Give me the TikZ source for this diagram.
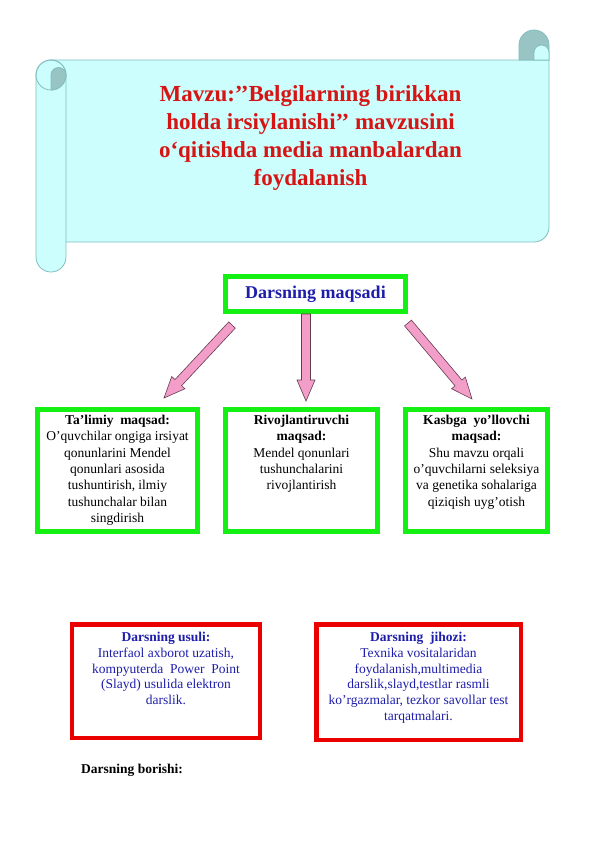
\documentclass[tikz,border=0pt]{standalone}
\usepackage{fontspec}
\setmainfont{Liberation Serif}
\usetikzlibrary{calc}

\definecolor{scrollfill}{RGB}{204,254,254}
\definecolor{scrolledge}{RGB}{130,190,190}
\definecolor{scrolldark}{RGB}{152,196,196}
\definecolor{titlered}{RGB}{215,20,20}
\definecolor{boxgreen}{RGB}{20,240,20}
\definecolor{boxred}{RGB}{235,0,0}
\definecolor{textblue}{RGB}{30,30,170}
\definecolor{arrowpink}{RGB}{243,158,200}
\definecolor{arrowedge}{RGB}{100,60,80}

% block arrow: #1 head point name, #2 tail, #3 tip
\newcommand{\pinkarrow}[3]{%
  \coordinate (#1) at ($(#3)!21bp!(#2)$);
  \draw[pinkarr] ($(#2)!4.5bp!90:(#3)$) -- ($(#1)!4.5bp!90:(#3)$) -- ($(#1)!9bp!90:(#3)$) -- (#3)
    -- ($(#1)!9bp!-90:(#3)$) -- ($(#1)!4.5bp!-90:(#3)$) -- ($(#2)!4.5bp!-90:(#3)$) -- cycle;
}

\begin{document}
\begin{tikzpicture}[x=1bp,y=-1bp,
  scroll/.style={draw=scrolledge, line width=0.8bp, fill=scrollfill},
  curl/.style={draw=scrolledge, line width=0.8bp, fill=scrolldark},
  greenbox/.style={draw=boxgreen, line width=5bp, fill=white, inner sep=0pt},
  redbox/.style={draw=boxred, line width=4.5bp, fill=white, inner sep=0pt},
  boxtext/.style={align=center, inner sep=0pt, anchor=north, font=\fontsize{13.5bp}{16.3bp}\selectfont},
  pinkarr/.style={draw=arrowedge, line width=0.6bp, fill=arrowpink}]
\fill[white] (0,0) rectangle (596,842);

%Scroll
\draw[scroll] (51,60) -- (549,60) -- (549,227) arc[start angle=0, end angle=-90, radius=15bp] -- (51,242) -- cycle;
\draw[curl] (519,60) -- (519,45) arc[start angle=180, end angle=0, radius=15bp] -- (549,60) -- cycle;
\draw[scroll] (534,60) -- (534,52.5) arc[start angle=180, end angle=0, radius=7.5bp] -- (549,60) -- cycle;
\draw[scroll] (36,75) -- (36,257) arc[start angle=180, end angle=360, radius=15bp] -- (66,75) arc[start angle=0, end angle=180, radius=15bp] -- cycle;
\draw[scrolledge, line width=0.8bp] (51,75) circle[radius=15bp];
\draw[curl] (51,90) arc[start angle=270, end angle=360, radius=15bp] arc[start angle=0, end angle=180, radius=7.5bp] -- cycle;

\node[font=\fontsize{23bp}{28bp}\selectfont\bfseries, text=titlered, align=center] (mavzu) at (310.5,138)
  {Mavzu:’’Belgilarning birikkan\\ holda irsiylanishi’’ mavzusini\\ o‘qitishda media manbalardan\\ foydalanish};

%Goals
\node[greenbox, minimum width=180bp, minimum height=35bp, text=textblue, font=\fontsize{18bp}{20bp}\selectfont\bfseries] (maqsad) at (315.5,294) {Darsning maqsadi};

\node[greenbox, minimum width=160bp, minimum height=122bp] (talim) at (117.5,470.5) {};
\node[greenbox, minimum width=152bp, minimum height=122bp] (rivoj) at (301.5,470.5) {};
\node[greenbox, minimum width=142bp, minimum height=122bp] (kasb) at (476.5,470.5) {};

\node[boxtext] (talimtxt) at ([yshift=-8bp]talim.north) {\textbf{Ta’limiy~~maqsad:}\\ O’quvchilar ongiga irsiyat\\ qonunlarini Mendel\\ qonunlari asosida\\ tushuntirish, ilmiy\\ tushunchalar bilan\\ singdirish};
\node[boxtext] (rivojtxt) at ([yshift=-8bp]rivoj.north) {\textbf{Rivojlantiruvchi}\\ \textbf{maqsad:}\\ Mendel qonunlari\\ tushunchalarini\\ rivojlantirish};
\node[boxtext] (kasbtxt) at ([yshift=-8bp]kasb.north) {\textbf{Kasbga~~yo’llovchi}\\ \textbf{maqsad:}\\ Shu mavzu orqali\\ o’quvchilarni seleksiya\\ va genetika sohalariga\\ qiziqish uyg’otish};

\coordinate (talimtail) at ($(maqsad.south west)+(9,11)$);
\coordinate (talimtip) at ($(talim.north)+(46.5,-9)$);
\coordinate (rivojtail) at ($(maqsad.south)+(-9.5,0)$);
\coordinate (rivojtip) at ($(rivoj.north)+(4.5,-6)$);
\coordinate (kasbtail) at ($(maqsad.south east)+(0,9)$);
\coordinate (kasbtip) at ($(kasb.north)+(-4.5,-8)$);
\pinkarrow{talimhead}{talimtail}{talimtip}
\pinkarrow{rivojhead}{rivojtail}{rivojtip}
\pinkarrow{kasbhead}{kasbtail}{kasbtip}

%Method and equipment
\node[redbox, minimum width=187.5bp, minimum height=113.5bp] (usul) at (166,681) {};
\node[redbox, minimum width=204.5bp, minimum height=115.5bp] (jihoz) at (418.5,682) {};

\node[boxtext, text=textblue, font=\fontsize{13.5bp}{15.8bp}\selectfont] (usultxt) at ([yshift=-10bp]usul.north) {\textbf{Darsning usuli:}\\ Interfaol axborot uzatish,\\ kompyuterda~~Power~~Point\\ (Slayd) usulida elektron\\ darslik.};
\node[boxtext, text=textblue, font=\fontsize{13.5bp}{15.8bp}\selectfont] (jihoztxt) at ([yshift=-10bp]jihoz.north) {\textbf{Darsning~~jihozi:}\\ Texnika vositalaridan\\ foydalanish,multimedia\\ darslik,slayd,testlar rasmli\\ ko’rgazmalar, tezkor savollar test\\ tarqatmalari.};

\node[anchor=base west, inner sep=0pt, font=\fontsize{13.5bp}{16bp}\selectfont\bfseries] (borishi) at (81,773.5) {Darsning borishi:};

\end{tikzpicture}
\end{document}
